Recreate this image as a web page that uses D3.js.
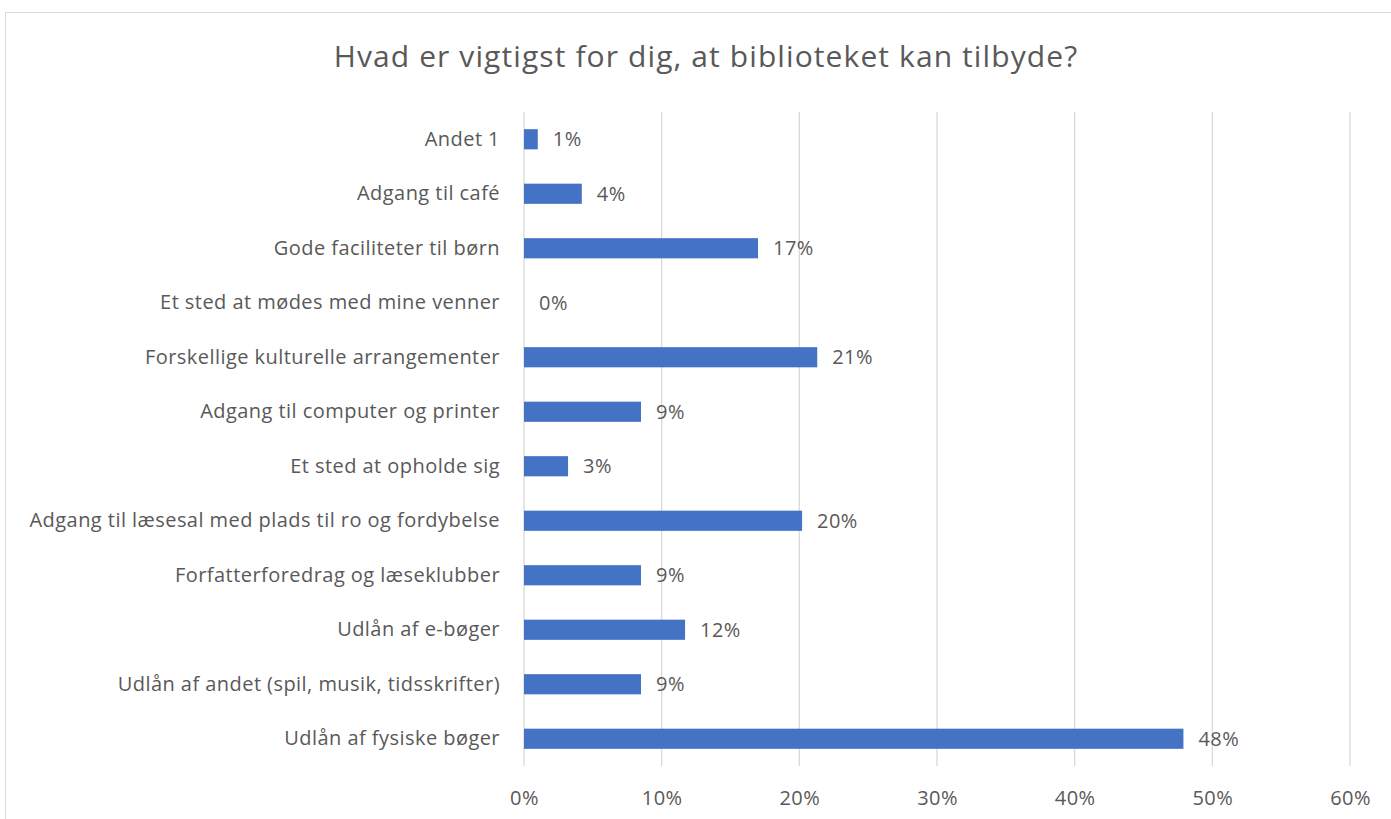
<!DOCTYPE html>
<html>
<head>
<meta charset="utf-8">
<script src="https://cdn.jsdelivr.net/npm/d3@7"></script>
<style>
  body { margin: 0; background: #fff; }
  text { font-family: "Open Sans", Lato, sans-serif; fill: #595959; }
</style>
</head>
<body>
<div id="chart"></div>
<script>
// data
const categories = [
  "Andet 1",
  "Adgang til café",
  "Gode faciliteter til børn",
  "Et sted at mødes med mine venner",
  "Forskellige kulturelle arrangementer",
  "Adgang til computer og printer",
  "Et sted at opholde sig",
  "Adgang til læsesal med plads til ro og fordybelse",
  "Forfatterforedrag og læseklubber",
  "Udlån af e-bøger",
  "Udlån af andet (spil, musik, tidsskrifter)",
  "Udlån af fysiske bøger"
];
const values = [0.010, 0.042, 0.170, 0.000, 0.213, 0.085, 0.032, 0.202, 0.085, 0.117, 0.085, 0.479];
const ticks = [0, 0.1, 0.2, 0.3, 0.4, 0.5, 0.6];

const width = 1391, height = 819;
const margin = { top: 112, right: 41, bottom: 53, left: 524 };
const labelSize = "20px";
const labelSpacing = "0.45px";

var svg = d3.select("#chart").append("svg")
    .attr("width", width)
    .attr("height", height);

// chart border
svg.append("rect")
    .attr("x", 5.5).attr("y", 12.5)
    .attr("width", width).attr("height", height)
    .attr("fill", "none")
    .attr("stroke", "#d9d9d9");

svg.append("text")
    .attr("x", 706).attr("y", 67)
    .attr("text-anchor", "middle")
    .style("font-size", "30px")
    .style("letter-spacing", "1.1px")
    .text("Hvad er vigtigst for dig, at biblioteket kan tilbyde?");

var x = d3.scaleLinear()
    .domain([0, 0.6])
    .range([margin.left, width - margin.right]);

var y = d3.scaleBand()
    .domain(categories)
    .range([margin.top, height - margin.bottom])
    .paddingInner(0.63)
    .paddingOuter(0.315);

// gridlines
svg.append("g")
    .selectAll("line")
    .data(ticks)
    .enter().append("line")
    .attr("x1", d => x(d)).attr("x2", d => x(d))
    .attr("y1", margin.top).attr("y2", height - margin.bottom)
    .attr("stroke", "#d9d9d9")
    .attr("stroke-width", 1.3);

// x axis labels
var xAxis = d3.axisBottom(x)
    .tickValues(ticks)
    .tickFormat(d3.format(".0%"))
    .tickSize(0)
    .tickPadding(25);
svg.append("g")
    .attr("transform", `translate(0,${height - margin.bottom})`)
    .call(xAxis)
    .call(g => g.select(".domain").remove())
    .call(g => g.selectAll("text").style("font-size", labelSize)
        .style("letter-spacing", labelSpacing).attr("fill", "#595959"));

// category labels
var yAxis = d3.axisLeft(y).tickSize(0).tickPadding(24);
svg.append("g")
    .attr("transform", `translate(${margin.left},0)`)
    .call(yAxis)
    .call(g => g.select(".domain").remove())
    .call(g => g.selectAll("text").style("font-size", labelSize)
        .style("letter-spacing", labelSpacing).attr("fill", "#595959"));

// bars
svg.append("g")
    .selectAll("rect")
    .data(values)
    .enter().append("rect")
    .attr("x", x(0))
    .attr("y", (d, i) => y(categories[i]))
    .attr("width", d => x(d) - x(0))
    .attr("height", y.bandwidth())
    .attr("fill", "#4472c4");

// value labels
svg.append("g")
    .selectAll("text")
    .data(values)
    .enter().append("text")
    .attr("x", d => x(d) + 15)
    .attr("y", (d, i) => y(categories[i]) + y.bandwidth() / 2)
    .attr("dy", "0.35em")
    .style("font-size", labelSize)
    .style("letter-spacing", labelSpacing)
    .attr("fill", "#404040")
    .text(d => d3.format(".0%")(d));
</script>
</body>
</html>
